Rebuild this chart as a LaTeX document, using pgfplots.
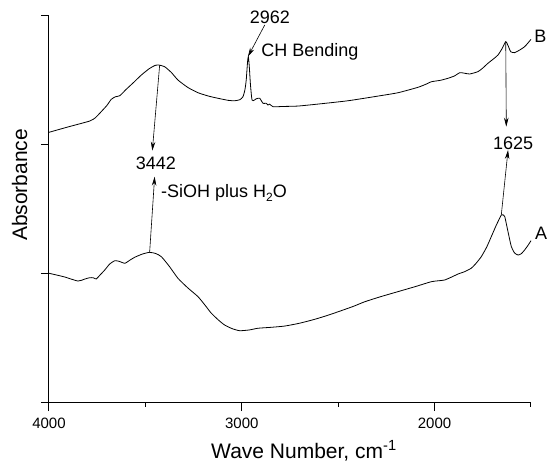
\documentclass[border=0pt]{standalone}
\usepackage{fontspec}
\setmainfont{Liberation Sans}
\usepackage{pgfplots}
\pgfplotsset{compat=1.18}
\usetikzlibrary{arrows.meta}
\begin{document}
\begin{tikzpicture}
\begin{axis}[
  width=482pt, height=388pt, scale only axis,
  xmin=1500, xmax=4000, x dir=reverse,
  ymin=0, ymax=3,
  axis lines*=left,
  axis line style={line width=1pt},
  clip=false,
  xtick={2000,3000,4000},
  minor xtick={1500,2500,3500},
  ytick={0,1,2,3},
  yticklabels={},
  tick align=outside,
  major tick length=8pt,
  minor tick length=4pt,
  every tick/.style={black, line width=1pt},
  /pgf/number format/assume math mode=true,
  /pgf/number format/set thousands separator={},
  xticklabel style={font=\fontsize{15}{18}\selectfont, yshift=-3pt},
  xlabel={Wave Number, cm\textsuperscript{-1}},
  ylabel={Absorbance},
  xlabel style={font=\fontsize{21}{25}\selectfont, at={(axis description cs:0.529,-0.142)}, anchor=base},
  ylabel style={font=\fontsize{21}{25}\selectfont, at={(axis description cs:-0.0456,0.562)}, anchor=base, rotate=0},
]
% Curve B
\addplot[black, line width=0.8pt, smooth, tension=0.35] coordinates {
(4000,2.093) (3900,2.135) (3789,2.180) (3760,2.205) (3737,2.240) (3700,2.300) (3677,2.348) (3655,2.368) (3633,2.376)
(3599,2.426) (3560,2.480) (3521,2.536) (3480,2.585) (3450,2.610) (3430,2.613) (3400,2.600) (3365,2.555) (3331,2.497)
(3280,2.440) (3227,2.399) (3170,2.372) (3123,2.356) (3070,2.340) (3037,2.337) (3010,2.345) (2994,2.368) (2984,2.420)
(2977,2.497) (2970,2.640) (2966,2.678) (2961,2.600) (2955,2.460) (2947,2.343) (2935,2.342) (2925,2.352) (2907,2.356)
(2890,2.317) (2874,2.318) (2864,2.304) (2855,2.311) (2838,2.291) (2780,2.293) (2708,2.296) (2600,2.312)
(2449,2.337) (2294,2.373) (2190,2.399) (2086,2.441) (2040,2.468) (2017,2.484) (1970,2.495) (1930,2.511) (1895,2.530)
(1870,2.554) (1845,2.550) (1818,2.544) (1775,2.562) (1750,2.590) (1723,2.627) (1695,2.660) (1671,2.691) (1650,2.740)
(1631,2.794) (1618,2.760) (1605,2.716) (1585,2.709) (1560,2.728) (1533,2.755) (1515,2.785) (1500,2.812)
};
% Curve A
\addplot[black, line width=0.8pt, smooth, tension=0.35] coordinates {
(4000,1.003) (3920,0.975) (3850,0.943) (3815,0.958) (3789,0.969) (3770,0.968) (3755,0.959) (3735,0.990) (3711,1.028)
(3685,1.075) (3659,1.100) (3635,1.095) (3607,1.080) (3580,1.105) (3555,1.127) (3515,1.152) (3478,1.165) (3445,1.155)
(3417,1.131) (3375,1.055) (3331,0.964) (3280,0.890) (3227,0.822) (3190,0.755) (3158,0.694) (3120,0.640) (3089,0.603)
(3050,0.575) (3011,0.559) (2960,0.565) (2916,0.578) (2850,0.585) (2777,0.595) (2700,0.617) (2622,0.647) (2550,0.680)
(2484,0.714) (2420,0.748) (2362,0.783) (2280,0.822) (2190,0.861) (2100,0.900) (2017,0.938) (1980,0.945) (1948,0.951)
(1910,0.975) (1879,0.997) (1845,1.015) (1810,1.042) (1785,1.080) (1758,1.131) (1730,1.205) (1706,1.286) (1680,1.375)
(1662,1.430) (1654,1.454) (1644,1.455) (1636,1.441) (1620,1.330) (1602,1.209) (1585,1.160) (1567,1.144) (1550,1.155)
(1533,1.183) (1515,1.220) (1500,1.255)
};
% annotations
\node[font=\fontsize{18}{21}\selectfont] at (axis cs:2854,2.985) {2962};
\draw[line width=0.6pt, -{Stealth[length=9pt,width=4.5pt]}] (axis cs:2881,2.923) -- (axis cs:2968,2.678);
\node[font=\fontsize{18}{21}\selectfont, anchor=west, inner sep=0pt] at (axis cs:2900,2.714) {CH Bending};
\node[font=\fontsize{18}{21}\selectfont] at (axis cs:3445,1.856) {3442};
\draw[line width=0.6pt, -{Stealth[length=9pt,width=4.5pt]}] (axis cs:3426,2.613) -- (axis cs:3464,1.951);
\draw[line width=0.6pt, -{Stealth[length=9pt,width=4.5pt]}] (axis cs:3478,1.165) -- (axis cs:3452,1.750);
\node[font=\fontsize{18}{21}\selectfont, anchor=west, inner sep=0pt] at (axis cs:3419,1.624) {-SiOH plus H\raisebox{-0.4ex}{\fontsize{12}{14}\selectfont 2}O};
\node[font=\fontsize{18}{21}\selectfont] at (axis cs:1593,2.010) {1625};
\draw[line width=0.6pt, -{Stealth[length=9pt,width=4.5pt]}] (axis cs:1631,2.794) -- (axis cs:1628,2.136);
\draw[line width=0.6pt, -{Stealth[length=9pt,width=4.5pt]}] (axis cs:1654,1.454) -- (axis cs:1619,1.956);
\node[font=\fontsize{18}{21}\selectfont, anchor=west, inner sep=0pt] at (axis cs:1484,2.838) {B};
\node[font=\fontsize{18}{21}\selectfont, anchor=west, inner sep=0pt] at (axis cs:1480,1.314) {A};
\end{axis}
\pgfresetboundingbox
\useasboundingbox (-49pt,-60pt) rectangle (498pt,403pt);
\end{tikzpicture}
\end{document}
